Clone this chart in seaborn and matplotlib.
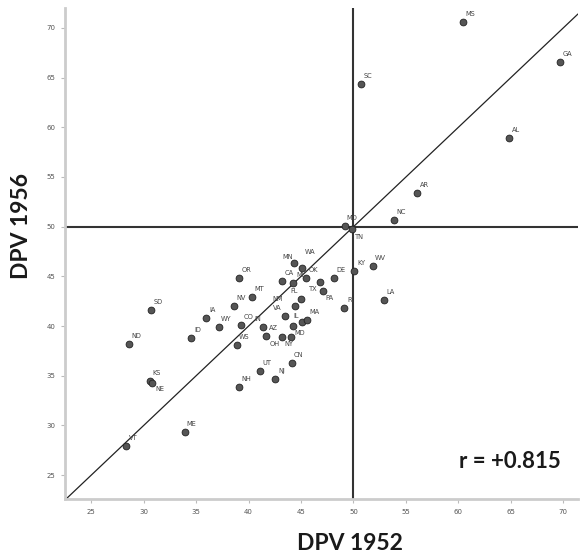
import matplotlib
matplotlib.use("Agg")
import matplotlib.pyplot as plt
import seaborn as sns
import pandas as pd

states = ["AL", "AZ", "AR", "CA", "CO", "CN", "DE", "FL", "GA", "ID", "IL", "IN",
          "IA", "KS", "KY", "LA", "ME", "MD", "MA", "MI", "MN", "MS", "MO", "MT",
          "NE", "NV", "NH", "NJ", "NM", "NY", "NC", "ND", "OH", "OK", "OR", "PA",
          "RI", "SC", "SD", "TN", "TX", "UT", "VT", "VA", "WA", "WV", "WS", "WY"]
dpv_1952 = [64.85, 41.7, 56.1, 43.2, 39.3, 44.1, 48.1, 45.0, 69.7, 34.5, 45.05, 41.4,
            35.9, 30.6, 50.07, 52.9, 33.9, 44.2, 45.6, 44.26, 44.35, 60.46, 49.2, 40.35,
            30.8, 38.6, 39.1, 42.5, 44.4, 44.0, 53.9, 28.6, 43.2, 45.5, 39.1, 47.1,
            49.1, 50.74, 30.7, 49.9, 46.8, 41.1, 28.3, 43.5, 45.1, 51.9, 38.9, 37.2]
dpv_1956 = [58.9, 39.0, 53.4, 44.5, 40.15, 36.3, 44.8, 42.75, 66.6, 38.8, 40.4, 39.9,
            40.85, 34.45, 45.5, 42.6, 29.3, 40.0, 40.6, 44.3, 46.3, 70.56, 50.03, 42.9,
            34.25, 42.05, 33.9, 34.7, 42.0, 38.86, 50.7, 38.2, 38.9, 44.8, 44.8, 43.5,
            41.8, 64.4, 41.6, 49.8, 44.4, 35.5, 27.9, 41.0, 45.8, 46.0, 38.1, 39.9]
r_text = "r = +0.815"
x_ticks = [25, 30, 35, 40, 45, 50, 55, 60, 65, 70]
y_ticks = [25, 30, 35, 40, 45, 50, 55, 60, 65, 70]

label_offsets = {
    "MN": (-7, 6), "WA": (8, 16), "NM": (-17, 7), "IL": (-5, 6), "MD": (7, -7),
    "OH": (-7, -7), "NY": (-2, -7), "VA": (-8, 8), "IN": (-6, 8), "TN": (7, -8),
    "NE": (8, -6), "FL": (-7, 8), "TX": (-7, -7), "PA": (6, -7),
}

df = pd.DataFrame({"state": states, "x": dpv_1952, "y": dpv_1956})

sns.set_theme(style="white")
plt.rcParams["font.family"] = ["DejaVu Sans"]

fig = plt.figure(figsize=(5.8, 5.57), dpi=100)
ax = fig.add_axes([65 / 580, 1 - 499 / 557, 513 / 580, 491 / 557])

ax.set_xlim(22.5, 71.4)
ax.set_ylim(22.6, 72.0)

ax.axline((50, 50), slope=1, color="#222222", lw=0.9, zorder=1)
ax.axvline(50, color="#333333", lw=1.5, zorder=1)
ax.axhline(50, color="#333333", lw=1.5, zorder=1)

sns.scatterplot(data=df, x="x", y="y", ax=ax, s=24, color="#555555",
                edgecolor="#222222", linewidth=0.6, zorder=3, legend=False)

for s, xv, yv in zip(states, dpv_1952, dpv_1956):
    dx, dy = label_offsets.get(s, (7, 8))
    ax.annotate(s, (xv, yv), xytext=(dx, dy), textcoords="offset pixels",
                ha="center", va="center", fontsize=4.8, color="#444444", zorder=4)

ax.set_xticks(x_ticks)
ax.set_yticks(y_ticks)
ax.tick_params(axis="both", labelsize=5, labelcolor="#555555", length=3,
               width=0.8, color="#bbbbbb", direction="out", pad=4)
ax.tick_params(axis="both", which="both", bottom=True, left=True)

for side in ["top", "right"]:
    ax.spines[side].set_visible(False)
for side in ["left", "bottom"]:
    ax.spines[side].set_color("#cccccc")
    ax.spines[side].set_linewidth(2)

ax.set_xlabel("")
ax.set_ylabel("")
fig.text(350 / 580, 1 - 543 / 557, "DPV 1952", ha="center", va="center",
         fontsize=16.5, fontweight="bold", family=["Lato", "DejaVu Sans"], color="#1a1a1a")
fig.text(22 / 580, 1 - 226 / 557, "DPV 1956", ha="center", va="center", rotation=90,
         fontsize=16.5, fontweight="bold", family=["Lato", "DejaVu Sans"], color="#1a1a1a")
fig.text(510 / 580, 1 - 462 / 557, r_text, ha="center", va="center",
         fontsize=16, fontweight="bold", family=["Lato", "DejaVu Sans"], color="#1a1a1a")

fig.savefig("out.png", dpi=100, facecolor="white")
